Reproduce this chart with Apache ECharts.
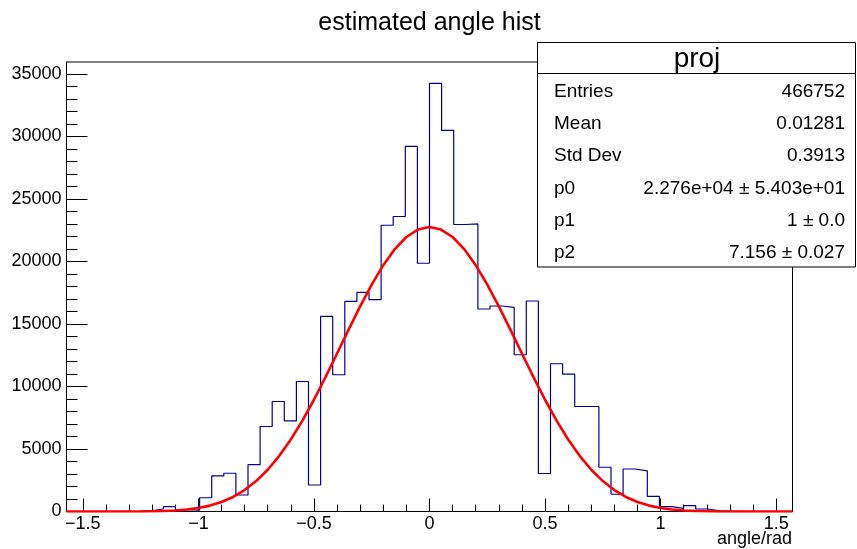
<!DOCTYPE html>
<html><head><meta charset="utf-8">
<script src="https://cdn.jsdelivr.net/npm/echarts@6/dist/echarts.min.js"></script>
<style>html,body{margin:0;padding:0;background:#fff}#c{width:857px;height:549px}</style>
</head><body><div id="c"></div>
<script>
// ---- data ----
const xMin = -1.5708, xMax = 1.5708, nBins = 60;
const binCounts = [
  0, 0, 0, 0, 0, 20, 60, 200, 390, 150,
  100, 1100, 2850, 3060, 1320, 3750, 6800, 8800, 7250, 10400,
  2120, 15610, 10940, 16810, 17530, 16950, 22900, 23600, 29210, 19860,
  34250, 30490, 22960, 23010, 16200, 16440, 16330, 12540, 16840, 3040,
  11820, 10990, 8400, 8400, 3540, 1380, 3400, 3250, 1215, 385,
  255, 465, 200, 60, 30, 10, 0, 0, 0, 0
];
const fitX = [-1.5708, -1.55, -1.5, -1.45, -1.4, -1.35, -1.3, -1.25, -1.2, -1.15, -1.1, -1.05, -1.0,
  -0.95, -0.9, -0.85, -0.8, -0.75, -0.7, -0.65, -0.6, -0.55, -0.5, -0.45, -0.4, -0.35, -0.3, -0.25,
  -0.2, -0.15, -0.1, -0.05, 0, 0.05, 0.1, 0.15, 0.2, 0.25, 0.3, 0.35, 0.4, 0.45, 0.5, 0.55, 0.6,
  0.65, 0.7, 0.75, 0.8, 0.85, 0.9, 0.95, 1.0, 1.05, 1.1, 1.15, 1.2, 1.25, 1.3, 1.35, 1.4, 1.45,
  1.5, 1.55, 1.5708];
const fitY = [0, 0, 0, 0, 0.1, 0.5, 2, 6, 16, 38, 80, 154, 278,
  471, 758, 1164, 1715, 2435, 3342, 4453, 5762, 7266, 8940, 10747, 12637, 14548, 16413, 18156,
  19706, 20993, 21959, 22557, 22760, 22557, 21959, 20993, 19706, 18156, 16413, 14548, 12637, 10747, 8940, 7266, 5762,
  4453, 3342, 2435, 1715, 1164, 758, 471, 278, 154, 80, 38, 16, 6, 2, 0.5, 0.1, 0,
  0, 0, 0];
const xMajorTicks = [-1.5, -1, -0.5, 0, 0.5, 1, 1.5];
const xMinorTicks = [-1.4, -1.3, -1.2, -1.1, -0.9, -0.8, -0.7, -0.6, -0.4, -0.3, -0.2, -0.1,
  0.1, 0.2, 0.3, 0.4, 0.6, 0.7, 0.8, 0.9, 1.1, 1.2, 1.3, 1.4];
const yMax = 35960;
const yMajorTicks = [0, 5000, 10000, 15000, 20000, 25000, 30000, 35000];
const yMinorTicks = [1000, 2000, 3000, 4000, 6000, 7000, 8000, 9000, 11000, 12000, 13000, 14000,
  16000, 17000, 18000, 19000, 21000, 22000, 23000, 24000, 26000, 27000, 28000, 29000,
  31000, 32000, 33000, 34000];
const chartTitle = 'estimated angle hist';
const xAxisTitle = 'angle/rad';
const statsTitle = 'proj';
const statsLabels = ['Entries', 'Mean', 'Std Dev', 'p0', 'p1', 'p2'];
const statsValues = ['466752', '0.01281', '0.3913', '2.276e+04 \u00b1 5.403e+01', '1 \u00b1 0.0', '7.156 \u00b1 0.027'];

// ---- build ----
const FONT = "'Liberation Sans', Arial, Helvetica, sans-serif";
const bw = (xMax - xMin) / nBins;
const histData = [];
for (let i = 0; i < nBins; i++) histData.push([xMin + i * bw, binCounts[i]]);
histData.push([xMax, binCounts[nBins - 1]]);
const fitData = fitX.map((x, i) => [x, fitY[i]]);

const G = { left: 66.5, top: 62, width: 726, height: 449.5 };
const box = { x: 537.5, y: 42.5, w: 318, h: 224.5, sep: 73.5 };

const graphics = [
  { type: 'text', z: 100, style: { x: 429.5, y: 23, text: chartTitle, font: '25px ' + FONT, fill: '#000', align: 'center', verticalAlign: 'middle' } },
  { type: 'text', z: 100, style: { x: 792, y: 539, text: xAxisTitle, font: '18px ' + FONT, fill: '#000', align: 'right', verticalAlign: 'middle' } },
  { type: 'rect', z: 100, shape: { x: box.x, y: box.y, width: box.w, height: box.h }, style: { fill: '#fff', stroke: '#000', lineWidth: 1 } },
  { type: 'line', z: 101, shape: { x1: box.x, y1: box.sep, x2: box.x + box.w, y2: box.sep }, style: { stroke: '#000', lineWidth: 1 } },
  { type: 'text', z: 101, style: { x: 697, y: 59, text: statsTitle, font: '28px ' + FONT, fill: '#000', align: 'center', verticalAlign: 'middle' } }
];
const rowH = (box.y + box.h - box.sep) / statsLabels.length;
statsLabels.forEach((lab, i) => {
  const cy = box.sep + rowH * (i + 0.5) + 2;
  graphics.push({ type: 'text', z: 101, style: { x: 554, y: cy, text: lab, font: '19px ' + FONT, fill: '#000', align: 'left', verticalAlign: 'middle' } });
  graphics.push({ type: 'text', z: 101, style: { x: 845, y: cy, text: statsValues[i], font: '19px ' + FONT, fill: '#000', align: 'right', verticalAlign: 'middle' } });
});

const fmtX = v => String(v).replace('-', '\u2212');
const fmtY = v => String(v);
const tickStyle = { color: '#000', width: 1 };

const chart = echarts.init(document.getElementById('c'), null, { renderer: 'canvas' });
chart.setOption({
  animation: false,
  backgroundColor: '#fff',
  grid: { left: G.left, top: G.top, width: G.width, height: G.height, show: true, borderColor: '#000', borderWidth: 1, backgroundColor: 'transparent' },
  xAxis: [
    { type: 'value', position: 'bottom', min: xMin, max: xMax, splitLine: { show: false },
      axisLine: { show: true, onZero: false, lineStyle: { color: '#000', width: 1 } },
      axisTick: { show: true, inside: true, length: 13, customValues: xMajorTicks, lineStyle: tickStyle },
      axisLabel: { show: true, customValues: xMajorTicks, margin: 4, color: '#000', fontSize: 18, fontFamily: FONT, formatter: fmtX, showMinLabel: true, showMaxLabel: true } },
    { type: 'value', position: 'bottom', min: xMin, max: xMax, splitLine: { show: false },
      axisLine: { show: false, onZero: false },
      axisTick: { show: true, inside: true, length: 7, customValues: xMinorTicks, lineStyle: tickStyle },
      axisLabel: { show: false } }
  ],
  yAxis: [
    { type: 'value', position: 'left', min: 0, max: yMax, splitLine: { show: false },
      axisLine: { show: true, onZero: false, lineStyle: { color: '#000', width: 1 } },
      axisTick: { show: true, inside: true, length: 21, customValues: yMajorTicks, lineStyle: tickStyle },
      axisLabel: { show: true, customValues: yMajorTicks, margin: 5, color: '#000', fontSize: 18, fontFamily: FONT, formatter: fmtY } },
    { type: 'value', position: 'left', min: 0, max: yMax, splitLine: { show: false },
      axisLine: { show: false, onZero: false },
      axisTick: { show: true, inside: true, length: 11, customValues: yMinorTicks, lineStyle: tickStyle },
      axisLabel: { show: false } }
  ],
  series: [
    { type: 'line', name: 'hist', xAxisIndex: 0, yAxisIndex: 0, step: 'end', data: histData, showSymbol: false, symbol: 'none',
      lineStyle: { color: '#000099', width: 1.2 }, z: 2, clip: true },
    { type: 'line', name: 'fit', xAxisIndex: 0, yAxisIndex: 0, data: fitData, showSymbol: false, symbol: 'none', smooth: false,
      lineStyle: { color: '#ff0000', width: 2.6, join: 'round' }, z: 3, clip: true }
  ],
  graphic: graphics
});
</script>
</body></html>
